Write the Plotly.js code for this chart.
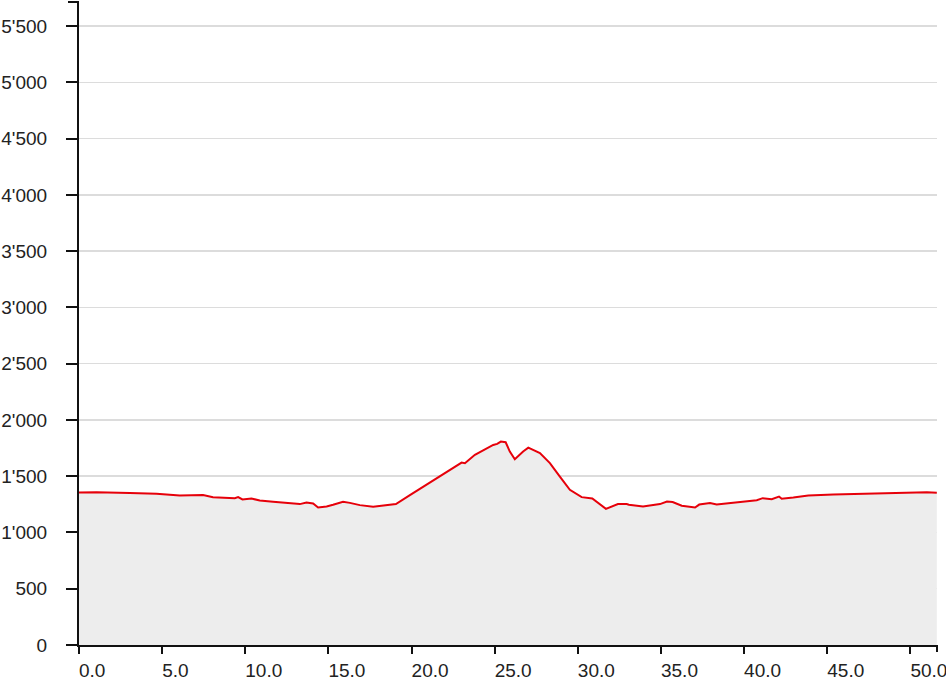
<!DOCTYPE html>
<html>
<head>
<meta charset="utf-8">
<script src="https://cdn.plot.ly/plotly-3.0.1.min.js"></script>
<style>html,body{margin:0;padding:0;background:#fff;}#chart{width:946px;height:684px;}</style>
</head>
<body>
<div id="chart"></div>
<script>
const distanceKm = [0, 1.05, 3.05, 4.66, 6.06, 7.46, 8.06, 9.37, 9.57, 9.83, 10.37, 10.87, 11.67, 13.28, 13.68, 14.08, 14.38, 14.89, 15.28, 15.88, 16.29, 16.89, 17.69, 18.39, 19.06, 19.90, 21.90, 22.30, 23.01, 23.21, 23.81, 24.91, 25.15, 25.37, 25.66, 25.91, 26.21, 26.71, 27.02, 27.72, 28.32, 28.92, 29.52, 30.23, 30.87, 31.69, 32.41, 32.94, 33.07, 33.92, 34.94, 35.36, 35.70, 36.25, 36.74, 37.05, 37.30, 37.95, 38.35, 39.55, 40.76, 41.12, 41.66, 42.10, 42.26, 42.96, 43.86, 45.37, 46.78, 48.18, 49.58, 50.99, 51.59];
const elevationM = [1355, 1358, 1350, 1343, 1328, 1332, 1314, 1305, 1314, 1293, 1302, 1284, 1272, 1252, 1266, 1257, 1222, 1231, 1246, 1272, 1263, 1243, 1228, 1237, 1252, 1332, 1518, 1556, 1621, 1616, 1690, 1778, 1787, 1808, 1802, 1719, 1651, 1719, 1754, 1705, 1616, 1497, 1379, 1314, 1302, 1210, 1252, 1252, 1246, 1231, 1252, 1275, 1270, 1237, 1225, 1222, 1248, 1261, 1248, 1270, 1287, 1305, 1296, 1319, 1299, 1310, 1328, 1337, 1343, 1352, 1355, 1358, 1352];
const xTickVals = [0, 5, 10, 15, 20, 25, 30, 35, 40, 45, 50];
const xTickText = ["0.0", "5.0", "10.0", "15.0", "20.0", "25.0", "30.0", "35.0", "40.0", "45.0", "50.0"];
const yTickVals = [0, 500, 1000, 1500, 2000, 2500, 3000, 3500, 4000, 4500, 5000, 5500];

const trace = {
  x: distanceKm,
  y: elevationM,
  type: 'scatter',
  mode: 'lines',
  fill: 'tozeroy',
  fillcolor: '#ededed',
  line: {color: '#e6000a', width: 2},
  hoverinfo: 'x+y'
};

const layout = {
  width: 946,
  height: 684,
  margin: {l: 79, r: 9, t: 2, b: 39},
  paper_bgcolor: '#ffffff',
  plot_bgcolor: '#ffffff',
  showlegend: false,
  separators: ".'",
  font: {family: '"Liberation Sans", Arial, sans-serif', size: 19, color: '#222'},
  xaxis: {
    range: [0, 51.6],
    tickvals: xTickVals,
    ticktext: xTickText,
    ticks: 'outside',
    ticklen: 7,
    tickwidth: 2,
    tickcolor: '#111',
    showline: true,
    linecolor: '#111',
    linewidth: 2,
    showgrid: false,
    zeroline: false,
    ticklabelposition: 'outside right',
    ticklabeloverflow: 'allow',
    ticklabelshift: -2,
    ticklabelstandoff: 7,
    tickfont: {size: 19, color: '#222'}
  },
  yaxis: {
    range: [0, 5714],
    tickvals: yTickVals,
    tickformat: ',d',
    ticks: 'outside',
    ticklen: 11,
    tickwidth: 2,
    tickcolor: '#111',
    showline: true,
    linecolor: '#111',
    linewidth: 2,
    showgrid: true,
    gridcolor: '#dcdcdc',
    gridwidth: 1.5,
    zeroline: false,
    ticklabelstandoff: 15,
    tickfont: {size: 19, color: '#222'}
  },
  shapes: [
    {type: 'line', xref: 'paper', yref: 'paper', xsizemode: 'pixel', xanchor: 0, x0: -11, x1: 0, y0: 1, y1: 1, line: {color: '#111', width: 2}},
    {type: 'line', xref: 'paper', yref: 'paper', ysizemode: 'pixel', yanchor: 0, y0: 0, y1: -7, x0: 1, x1: 1, line: {color: '#111', width: 2}}
  ]
};

Plotly.newPlot('chart', [trace], layout, {displayModeBar: false, staticPlot: true});
</script>
</body>
</html>
